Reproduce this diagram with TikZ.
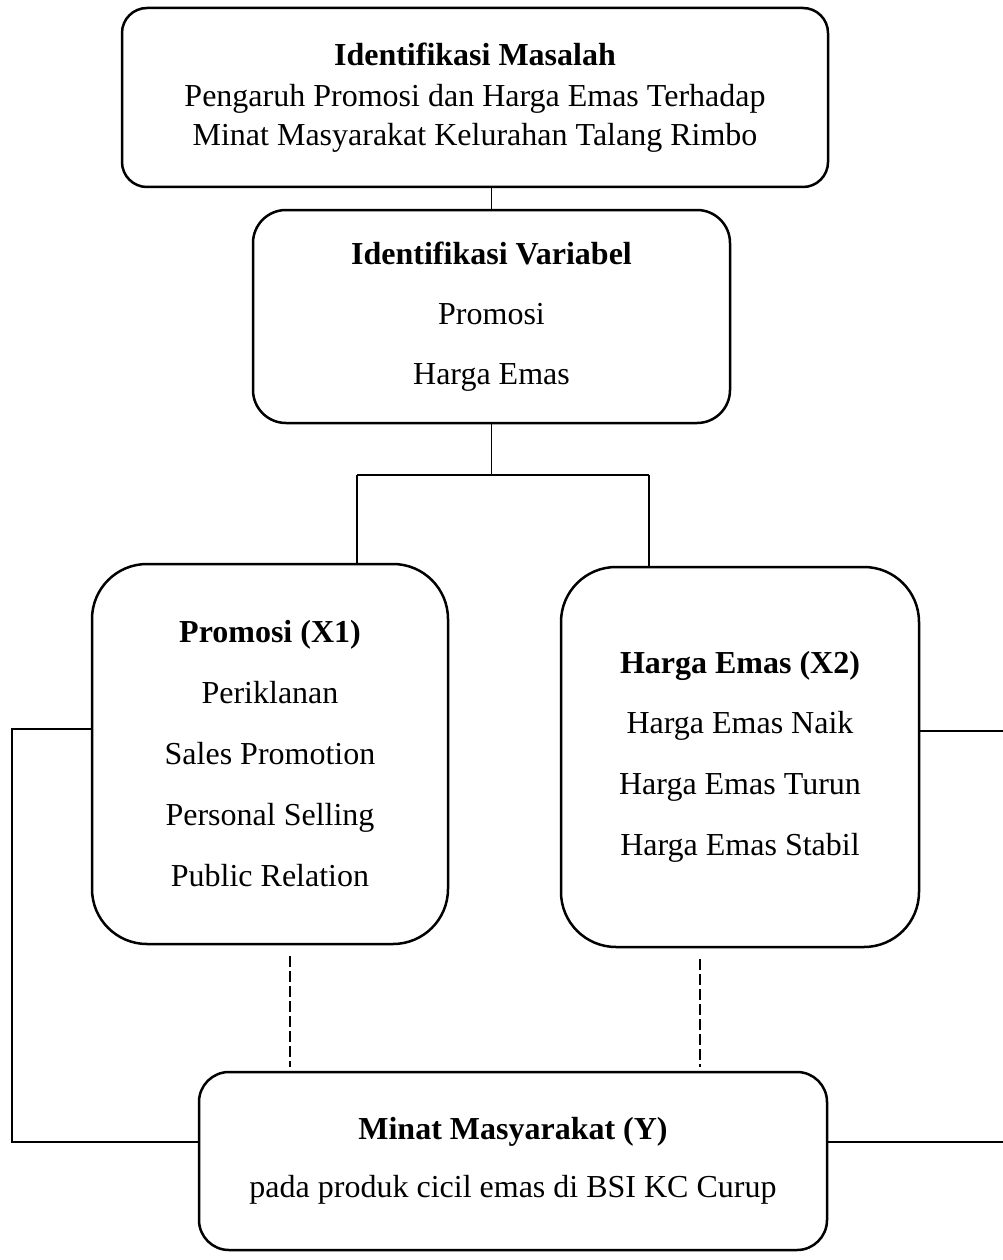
\documentclass[tikz,border=0pt]{standalone}
\usepackage{fontspec}
\setmainfont{Liberation Serif}
\begin{document}
\begin{tikzpicture}[x=1pt,y=-1pt,
  box/.style={draw,line width=2.5pt,rounded corners=#1,align=center,inner sep=0pt,
    font=\fontsize{32}{39}\selectfont},
  box/.default=30pt,
  link/.style={line width=1.3pt},
  dashlink/.style={line width=1.3pt,dash pattern=on 11pt off 4pt}]
\useasboundingbox (0,0) rectangle (1003,1260);
\clip (0,0) rectangle (1003,1260);
\node[box=25pt,minimum width=706pt,minimum height=179pt] (masalah) at (475,97.5)
  {\textbf{Identifikasi Masalah}\\[2pt] Pengaruh Promosi dan Harga Emas Terhadap\\ Minat Masyarakat Kelurahan Talang Rimbo};
\node[box=33pt,minimum width=477pt,minimum height=213pt] (variabel) at (491.5,316.5)
  {\textbf{Identifikasi Variabel}\\[21pt] Promosi\\[21pt] Harga Emas};
\node[box=55pt,minimum width=356pt,minimum height=380pt] (promosi) at (270,754)
  {\textbf{Promosi (X1)}\\[22pt] Periklanan\\[22pt] Sales Promotion\\[22pt] Personal Selling\\[22pt] Public Relation};
\node[box=55pt,minimum width=358pt,minimum height=380pt] (harga) at (740,757)
  {\textbf{Harga Emas (X2)}\\[21pt] Harga Emas Naik\\[22pt] Harga Emas Turun\\[22pt] Harga Emas Stabil};
\node[box=30pt,minimum width=628pt,minimum height=178pt] (minat) at (513,1161)
  {\textbf{Minat Masyarakat (Y)}\\[19pt] pada produk cicil emas di BSI KC Curup};
\coordinate (split) at (491.5,475);
\coordinate (splitL) at (357,475);
\coordinate (splitR) at (649,475);
\coordinate (leftTop) at (12,729);
\coordinate (leftBot) at (12,1142);
\coordinate (rightTop) at (1008,731);
\coordinate (rightBot) at (1008,1142);
\draw[link] (masalah.south -| variabel.north) -- (variabel.north);
\draw[link] (variabel.south) -- (split);
\draw[link] (splitL) -- (splitR);
\draw[link] (splitL) -- (splitL |- promosi.north);
\draw[link] (splitR) -- (splitR |- harga.north);
\draw[dashlink,shorten <=11pt,shorten >=4pt] ([xshift=20pt]promosi.south) -- ([xshift=20pt]promosi.south |- minat.north);
\draw[dashlink,shorten <=11pt,shorten >=4pt] ([xshift=-40pt]harga.south) -- ([xshift=-40pt]harga.south |- minat.north);
\draw[link] (leftTop -| promosi.west) -- (leftTop) -- (leftBot) -- (leftBot -| minat.west);
\draw[link] (rightTop -| harga.east) -- (rightTop) -- (rightBot) -- (rightBot -| minat.east);
\end{tikzpicture}
\end{document}
